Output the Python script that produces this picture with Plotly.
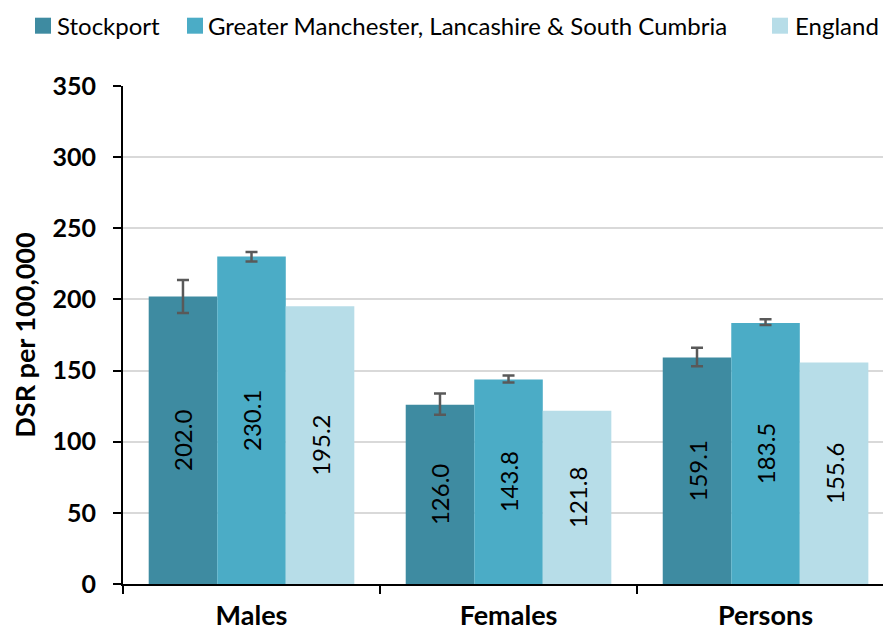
import plotly.graph_objects as go

categories = ["Males", "Females", "Persons"]
series_names = ["Stockport", "Greater Manchester, Lancashire & South Cumbria", "England"]
stockport = [202.0, 126.0, 159.1]
stockport_upper = [213.6, 133.9, 166.0]
stockport_lower = [190.5, 119.0, 153.0]
gmlsc = [230.1, 143.8, 183.5]
gmlsc_upper = [233.3, 146.6, 186.0]
gmlsc_lower = [226.6, 141.7, 182.0]
england = [195.2, 121.8, 155.6]
colors = ["#3E8BA1", "#4BACC6", "#B7DDE8"]

FONT = "Lato, 'Open Sans', sans-serif"

# plot area geometry in pixels (used to place the legend row above the plot)
W, H = 883, 632
ML, MR, MT, MB = 123, 0, 86, 48
PW, PH = W - ML - MR, H - MT - MB

# legend row: swatch left edges (px) and label left edges (px)
legend_swatch_px = [35, 187, 772]
legend_label_px = [55, 206, 793]
legend_center_py = 25.7
swatch_size = 16


def px_to_paper_x(px):
    return (px - ML) / PW


def py_to_paper_y(py):
    return (H - MB - py) / PH


def err(values, upper, lower):
    return dict(
        type="data",
        symmetric=False,
        array=[u - v for u, v in zip(upper, values)],
        arrayminus=[v - l for v, l in zip(values, lower)],
        color="#595959",
        thickness=2.5,
        width=6,
    )


fig = go.Figure()
fig.add_trace(go.Bar(
    name=series_names[0], x=categories, y=stockport,
    marker=dict(color=colors[0], line=dict(width=0)),
    error_y=err(stockport, stockport_upper, stockport_lower),
    text=[f"{v:.1f}" for v in stockport],
))
fig.add_trace(go.Bar(
    name=series_names[1], x=categories, y=gmlsc,
    marker=dict(color=colors[1], line=dict(width=0)),
    error_y=err(gmlsc, gmlsc_upper, gmlsc_lower),
    text=[f"{v:.1f}" for v in gmlsc],
))
fig.add_trace(go.Bar(
    name=series_names[2], x=categories, y=england,
    marker=dict(color=colors[2], line=dict(width=0)),
    text=[f"{v:.1f}" for v in england],
))

fig.update_traces(
    textposition="inside",
    insidetextanchor="middle",
    textangle=-90,
    textfont=dict(family=FONT, size=24, color="#000000"),
    cliponaxis=False,
    showlegend=False,
)

# legend row drawn as swatches + labels
shapes = []
annotations = []
for name, color, sx, tx in zip(series_names, colors, legend_swatch_px, legend_label_px):
    shapes.append(dict(
        type="rect", xref="paper", yref="paper",
        x0=px_to_paper_x(sx), x1=px_to_paper_x(sx + swatch_size),
        y0=py_to_paper_y(legend_center_py + swatch_size / 2),
        y1=py_to_paper_y(legend_center_py - swatch_size / 2),
        fillcolor=color, line=dict(width=0),
    ))
    annotations.append(dict(
        text=name, xref="paper", yref="paper",
        x=px_to_paper_x(tx), y=py_to_paper_y(legend_center_py),
        xanchor="left", yanchor="middle", showarrow=False,
        font=dict(family=FONT, size=24, color="#000000"),
    ))

fig.update_layout(
    width=W,
    height=H,
    paper_bgcolor="white",
    plot_bgcolor="white",
    margin=dict(l=ML, r=MR, t=MT, b=MB, autoexpand=False),
    barmode="group",
    bargap=0.2,
    bargroupgap=0,
    font=dict(family=FONT, color="#000000"),
    showlegend=False,
    shapes=shapes,
    annotations=annotations,
    uniformtext=dict(mode="show", minsize=10),
)

fig.update_xaxes(
    type="category",
    range=[-0.5, 2.457],
    showline=True, linecolor="#000000", linewidth=2,
    ticks="outside", tickson="boundaries", ticklen=8, tickwidth=1.5, tickcolor="#000000",
    tickfont=dict(family=FONT, size=27, color="#000000", weight="bold"),
    ticklabelstandoff=7,
    showgrid=False,
)

fig.update_yaxes(
    range=[0, 350],
    tickvals=[0, 50, 100, 150, 200, 250, 300, 350],
    showline=True, linecolor="#000000", linewidth=2,
    ticks="outside", ticklen=8, tickwidth=1.5, tickcolor="#000000",
    tickfont=dict(family=FONT, size=25, color="#000000", weight="bold"),
    ticklabelstandoff=12,
    showgrid=True, gridcolor="#D9D9D9", gridwidth=1.5,
    zeroline=False,
    title=dict(text="DSR per 100,000", font=dict(family=FONT, size=27, color="#000000", weight="bold"), standoff=9),
)

fig.write_html("out.html")
